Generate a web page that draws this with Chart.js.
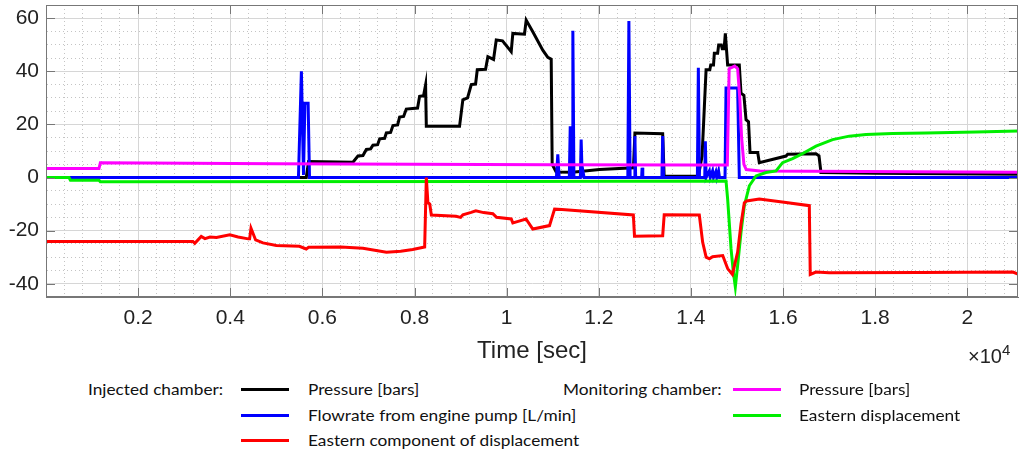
<!DOCTYPE html>
<html>
<head>
<meta charset="utf-8">
<script src="https://cdn.jsdelivr.net/npm/chart.js@4.4.0/dist/chart.umd.min.js"></script>
<style>
  body { margin: 0; background: #fff; width: 1020px; height: 452px; overflow: hidden; position: relative; }
  #wrap { position: absolute; left: 0; top: 0; width: 1020px; height: 372px; }
  .lg { position: absolute; font-family: Lato, "Liberation Sans", sans-serif; font-size: 15px; color: #111; white-space: nowrap; line-height: 16px; transform: scaleX(1.15); transform-origin: 0 0; }
  .sw { position: absolute; height: 3px; width: 48px; }
  #expo { position: absolute; left: 968px; top: 341px; font-family: "Liberation Sans", Arial, sans-serif; font-size: 20px; color: #222; }
  #expo sup { font-size: 15px; }
</style>
</head>
<body>
<div id="wrap"><canvas id="grafico"></canvas></div>
<div id="expo">&times;10<sup>4</sup></div>

<div class="lg" style="left:88px;top:381px">Injected chamber:</div>
<div class="sw" style="left:241px;top:388px;background:#000"></div>
<div class="lg" style="left:308px;top:381px">Pressure [bars]</div>
<div class="sw" style="left:241px;top:414px;background:#0000ff"></div>
<div class="lg" style="left:308px;top:407px">Flowrate from engine pump [L/min]</div>
<div class="sw" style="left:241px;top:439px;background:#ff0000"></div>
<div class="lg" style="left:308px;top:432px">Eastern component of displacement</div>

<div class="lg" style="left:563px;top:381px">Monitoring chamber:</div>
<div class="sw" style="left:733px;top:388px;background:#ff00ff"></div>
<div class="lg" style="left:799px;top:381px">Pressure [bars]</div>
<div class="sw" style="left:733px;top:414px;background:#00ee00"></div>
<div class="lg" style="left:799px;top:407px">Eastern displacement</div>

<script>
// tiempos [s] y valores
var tPresIny = [0, 5650, 5700, 6663, 6772, 6880, 6954, 7047, 7097, 7199, 7243, 7351, 7388, 7481, 7531, 7633, 7676, 7763, 7821, 8066, 8110, 8196, 8240, 8256, 8977, 9049, 9151, 9232, 9325, 9362, 9542, 9592, 9715, 9774, 9910, 10099, 10134, 10387, 10424, 10567, 10784, 10893, 10967, 10988, 11075, 11429, 12014, 12752, 12784, 13387, 13419, 14161, 14242, 14292, 14329, 14410, 14430, 14490, 14508, 14580, 14602, 14660, 14680, 14720, 14747, 14797, 15050, 15087, 15150, 15196, 15250, 15283, 15450, 15484, 16064, 16100, 16715, 16780, 16823, 18000, 21100];
var presIny = [0, 0, 6, 5.8, 8.1, 8.3, 10.6, 10.8, 12.2, 12.4, 14.6, 14.8, 16.8, 17, 19.6, 19.8, 22.8, 23, 25.8, 26.2, 30.6, 30.8, 34.9, 19.3, 19.3, 29.3, 30, 35, 35.2, 40.6, 40.8, 45.5, 44.5, 51.8, 51.5, 47.4, 54.3, 54, 59.3, 54.9, 48, 45.3, 44.6, 5, 2.1, 2, 3, 3.7, 16.8, 16.5, 0.5, 0.5, 8.1, 26.8, 40.6, 40.6, 42.4, 42.4, 46.8, 46.8, 49.9, 49.9, 48.5, 48.5, 54.3, 42.4, 42.4, 31.8, 31, 21.8, 21, 9.4, 9.4, 5.6, 8.1, 8.8, 9, 8.2, 1.9, 1.6, 1.2];

var tCaudal = [0, 5480, 5544, 5590, 5620, 5690, 5720, 11080, 11110, 11140, 11360, 11380, 11400, 11420, 11437, 11460, 11600, 11617, 11640, 11660, 11680, 12630, 12653, 12680, 12770, 12784, 12800, 12930, 12940, 12955, 13370, 13387, 13405, 14140, 14161, 14185, 14300, 14313, 14330, 14400, 14420, 14470, 14490, 14540, 14560, 14600, 14620, 14740, 14762, 15014, 15050, 21100];
var caudal = [0, 0, 40, 1, 28, 28, 0, 0, 8.7, 0, 0, 19.3, 0, 0, 55.3, 0, 0, 14.3, 0, 2, 0, 0, 59, 0, 0, 15.6, 0, 0, 3.7, 0, 0, 15.6, 0, 0, 41.4, 0, 0, 13.7, 0, 2.5, 0, 2.5, 0, 2.2, 0, 2.5, 0, 0, 33.7, 33.7, 0, 0];

var tDespIny = [0, 3190, 3230, 3370, 3450, 3560, 3700, 3990, 4170, 4390, 4420, 4450, 4550, 4710, 5000, 5500, 5650, 5700, 6400, 6880, 7390, 7700, 7960, 8220, 8256, 8290, 8330, 8365, 8900, 9000, 9050, 9230, 9330, 9500, 9700, 9780, 10100, 10134, 10250, 10420, 10567, 10930, 11040, 11200, 12750, 12775, 13387, 13420, 14182, 14255, 14330, 14400, 14470, 14690, 14797, 14900, 15014, 15087, 15159, 15210, 15484, 16064, 16570, 16590, 16715, 17000, 19000, 20990, 21100];
var despIny = [-24.1, -24.1, -24.8, -22.2, -23, -22.4, -22.6, -21.6, -22.4, -23.1, -23.1, -19.1, -23.5, -24.6, -25.6, -25.9, -26.9, -26.3, -26.2, -26.6, -28.1, -27.8, -27.1, -26.2, 0, -9.4, -10, -14.1, -14.6, -15, -14, -13.1, -12.5, -13.2, -13.6, -15, -15.6, -17.1, -16.5, -15.6, -19.4, -18.1, -11.9, -12, -14.1, -22.1, -21.9, -14, -14.1, -24.4, -30, -30.6, -29.8, -29.4, -34.3, -36.5, -28.1, -17.5, -9.5, -8.8, -8.1, -9.4, -10.6, -36.5, -35.6, -35.9, -35.8, -35.6, -36.4];

var tPresMon = [0, 1150, 1180, 5000, 8000, 11000, 14000, 14790, 14830, 14950, 15014, 15060, 15100, 15150, 15200, 15500, 21100];
var presMon = [3.4, 3.4, 5.6, 5.2, 5.0, 4.8, 4.7, 4.7, 41, 42, 41, 30, 15, 5, 3, 2.5, 2.0];

var tDespMon = [0, 500, 530, 1150, 1180, 10000, 14762, 14797, 14871, 14921, 14964, 15014, 15087, 15159, 15268, 15413, 15630, 15847, 15990, 16207, 16389, 16715, 17075, 17437, 17799, 18376, 19100, 20185, 21100];
var despMon = [0, 0, -1.0, -1.0, -1.6, -1.5, -1.3, -8.1, -26.9, -35.6, -41.2, -33.1, -20.6, -10.6, -3.1, 0.6, 1.9, 2.5, 5.6, 7.1, 8.7, 11.8, 14.3, 15.6, 16.2, 16.6, 16.8, 17.2, 17.5];

// marcas del eje x (en segundos) y sus etiquetas (x10^4)
var marcasX = [2000, 4000, 6000, 8000, 10000, 12000, 14000, 16000, 18000, 20000];
var etiquetasX = ['0.2', '0.4', '0.6', '0.8', '1', '1.2', '1.4', '1.6', '1.8', '2'];
var ejeX = { min: 0, max: 21100, paso: 400 };
var ejeY = { min: -45, max: 65, paso: 5, mayor: 20 };

function puntos(t, v) {
  var p = [];
  for (let i = 0; i < t.length; i++) {
    p.push({ x: t[i], y: v[i] });
  }
  return p;
}

function serie(t, v, color) {
  return {
    data: puntos(t, v),
    borderColor: color,
    backgroundColor: color,
    borderWidth: 3,
    pointRadius: 0,
    tension: 0,
    fill: false
  };
}

function sinRelleno(s) {
  s.paddingTop = 0;
  s.paddingBottom = 0;
  s.paddingLeft = 0;
  s.paddingRight = 0;
}

// marco y marcas interiores estilo matlab
var marco = {
  id: 'marco',
  afterDraw: function (chart) {
    var a = chart.chartArea;
    var c = chart.ctx;
    c.save();
    c.strokeStyle = '#777';
    c.lineWidth = 1;
    c.strokeRect(a.left + 0.5, a.top + 0.5, a.right - a.left - 1, a.bottom - a.top - 1);
    var sx = chart.scales.x, sy = chart.scales.y;
    c.beginPath();
    marcasX.forEach(function (v) {
      var px = Math.round(sx.getPixelForValue(v)) + 0.5;
      c.moveTo(px, a.bottom); c.lineTo(px, a.bottom - 9);
      c.moveTo(px, a.top); c.lineTo(px, a.top + 9);
    });
    for (let v = -40; v <= 60; v += ejeY.mayor) {
      var py = Math.round(sy.getPixelForValue(v)) + 0.5;
      c.moveTo(a.left, py); c.lineTo(a.left + 9, py);
      c.moveTo(a.right, py); c.lineTo(a.right - 9, py);
    }
    c.stroke();
    c.restore();
  }
};

function esMayor(ctx, m) {
  return ctx.tick && Math.abs(ctx.tick.value % m) < 1e-6;
}

var ctx = document.getElementById('grafico').getContext('2d');
window.grafica = new Chart(ctx, {
  type: 'line',
  data: {
    datasets: [
      serie(tDespIny, despIny, '#ff0000'),
      serie(tDespMon, despMon, '#00ee00'),
      serie(tPresMon, presMon, '#ff00ff'),
      serie(tCaudal, caudal, '#0000ff'),
      serie(tPresIny, presIny, '#000000')
    ]
  },
  options: {
    responsive: true,
    maintainAspectRatio: false,
    animation: false,
    layout: { padding: { top: 5, right: 2, left: 0, bottom: 0 } },
    plugins: { legend: { display: false }, tooltip: { enabled: false } },
    scales: {
      xMenor: {
        type: 'linear',
        position: 'bottom',
        min: ejeX.min,
        max: ejeX.max,
        afterFit: function (s) { s.height = 0; sinRelleno(s); },
        afterBuildTicks: function (s) {
          var t = [];
          for (let v = ejeX.paso; v < ejeX.max; v += ejeX.paso) t.push({ value: v });
          s.ticks = t;
        },
        ticks: { display: false },
        grid: { drawTicks: false, color: '#c4c4c4' },
        border: { display: false, dash: [1, 3] }
      },
      x: {
        type: 'linear',
        position: 'bottom',
        min: ejeX.min,
        max: ejeX.max,
        afterFit: function (s) { s.height = 75; sinRelleno(s); },
        afterBuildTicks: function (s) {
          s.ticks = marcasX.map(function (v) { return { value: v }; });
        },
        ticks: {
          autoSkip: false,
          maxRotation: 0,
          padding: 9,
          color: '#222',
          font: { family: 'Liberation Sans', size: 21 },
          callback: function (v) {
            var i = marcasX.indexOf(v);
            return i >= 0 ? etiquetasX[i] : '';
          }
        },
        grid: { drawTicks: false, color: '#d6d6d6' },
        border: { color: '#777' },
        title: {
          display: true,
          text: 'Time [sec]',
          color: '#222',
          font: { family: 'Liberation Sans', size: 24 },
          padding: { top: 0, bottom: 6 }
        }
      },
      y: {
        min: ejeY.min,
        max: ejeY.max,
        afterFit: function (s) { s.width = 46; sinRelleno(s); },
        ticks: {
          stepSize: ejeY.paso,
          autoSkip: false,
          padding: 7,
          color: '#222',
          font: { family: 'Liberation Sans', size: 21 },
          callback: function (v) {
            if (v % ejeY.mayor === 0) return String(v);
            return '';
          }
        },
        grid: {
          drawTicks: false,
          color: function (c) { return esMayor(c, ejeY.mayor) ? '#d6d6d6' : '#c4c4c4'; }
        },
        border: {
          color: '#777',
          dash: function (c) { return esMayor(c, ejeY.mayor) ? [] : [1, 3]; }
        }
      }
    }
  },
  plugins: [marco]
});
</script>
</body>
</html>
